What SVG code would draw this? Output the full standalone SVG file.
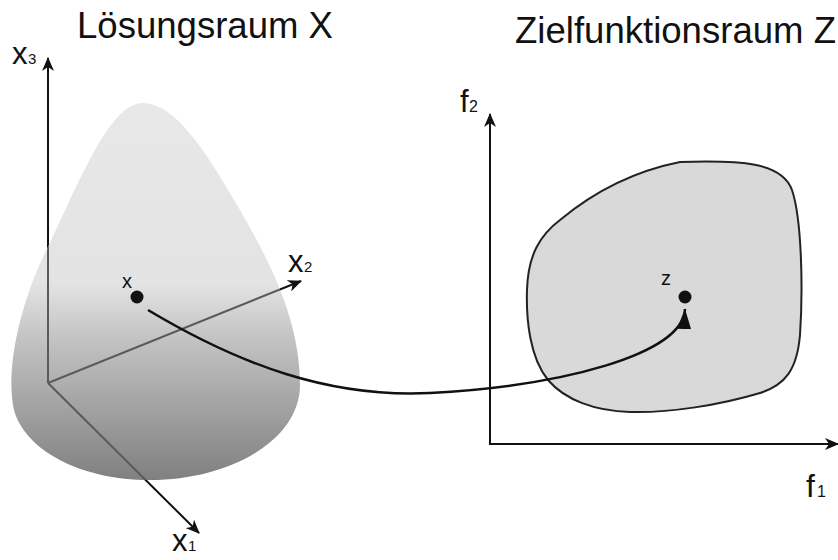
<svg xmlns="http://www.w3.org/2000/svg" width="838" height="560" viewBox="0 0 838 560">
<style>
text{font-family:"Liberation Sans",Arial,sans-serif;fill:#111}
.title{font-size:36px}
.ax{font-size:31px}
.sub{font-size:15px}
.pt{font-size:20px}
.axis{stroke:#111;stroke-width:2;fill:none}
.axisIn{stroke:#5a5a5a;stroke-width:2;fill:none}
</style>
<defs>
<linearGradient id="g" gradientUnits="userSpaceOnUse" x1="0" y1="103" x2="0" y2="480">
<stop offset="0" stop-color="#e8e8e8"/>
<stop offset="0.48" stop-color="#e3e3e3"/>
<stop offset="0.62" stop-color="#c4c4c4"/>
<stop offset="1" stop-color="#808080"/>
</linearGradient>
<path id="blobX" d="M143,103 C175,103 205,150 240,210 C270,262 300,320 300,385 C300,440 230,480 150,480 C80,480 25,450 14,410 C5,370 20,300 50,243 C80,180 110,103 143,103 Z"/>
<clipPath id="clipX"><use href="#blobX"/></clipPath>
<marker id="ah" viewBox="0 0 14 12" refX="13" refY="6" markerWidth="14" markerHeight="12" markerUnits="userSpaceOnUse" orient="auto">
<path d="M0,0 L14,6 L0,12 L4,6 Z" fill="#111"/>
</marker>
<marker id="ah2" viewBox="0 0 20 14" refX="20" refY="7" markerWidth="20" markerHeight="14" markerUnits="userSpaceOnUse" orient="auto">
<path d="M0,0 L20,7 L0,14 Z" fill="#111"/>
</marker>
</defs>
<rect width="838" height="560" fill="#fff"/>

<text class="title" x="77" y="38" textLength="256" lengthAdjust="spacingAndGlyphs">Lösungsraum X</text>
<text class="title" x="515" y="43" textLength="321" lengthAdjust="spacingAndGlyphs">Zielfunktionsraum Z</text>

<g id="axesX">
<line class="axis" x1="48" y1="383" x2="48" y2="58" marker-end="url(#ah)"/>
<line class="axis" x1="48" y1="383" x2="301" y2="281" marker-end="url(#ah)"/>
<line class="axis" x1="48" y1="383" x2="199" y2="533" marker-end="url(#ah)"/>
</g>

<g id="loesungsraum">
<use href="#blobX" fill="url(#g)"/>
<g clip-path="url(#clipX)">
<line class="axisIn" x1="48" y1="383" x2="48" y2="58"/>
<line class="axisIn" x1="48" y1="383" x2="301" y2="281"/>
<line class="axisIn" x1="48" y1="383" x2="199" y2="533"/>
</g>
</g>

<g id="labelsX">
<text class="ax" x="12" y="64">x</text><text class="sub" x="28" y="64">3</text>
<text class="ax" x="288" y="272">x</text><text class="sub" x="304" y="272">2</text>
<text class="ax" x="172" y="551">x</text><text class="sub" x="188" y="551">1</text>
</g>

<g id="axesF">
<line class="axis" x1="490" y1="444" x2="490" y2="114" marker-end="url(#ah)"/>
<line class="axis" x1="489" y1="444" x2="838" y2="444" marker-end="url(#ah)"/>
<text class="ax" x="460" y="112">f</text><text class="sub" x="469" y="112" style="font-size:16px">2</text>
<text class="ax" x="806" y="497" style="font-size:32px">f</text><text class="sub" x="817" y="497" style="font-size:16px">1</text>
</g>

<g id="zielraum">
<path d="M680,162 C740,160 782,162 792,190 C802,220 803,290 800,335 C797,370 785,385 760,393 C720,405 670,413 630,412 C595,411 565,400 548,380 C530,358 526,320 527,290 C528,255 540,235 560,220 C590,195 630,172 680,162 Z" fill="#d9d9d9" stroke="#222" stroke-width="2"/>
</g>

<g id="pointX">
<circle cx="137" cy="297" r="6.5" fill="#111"/>
<text class="pt" x="122" y="288">x</text>
</g>
<g id="pointZ">
<circle cx="685" cy="297" r="6.5" fill="#111"/>
<text class="pt" x="661" y="285">z</text>
</g>

<g id="connectors">
<path d="M148,310 C240,365 330,398 430,393 C560,386 683,355 685,309" fill="none" stroke="#111" stroke-width="2.5" marker-end="url(#ah2)"/>
</g>
</svg>
